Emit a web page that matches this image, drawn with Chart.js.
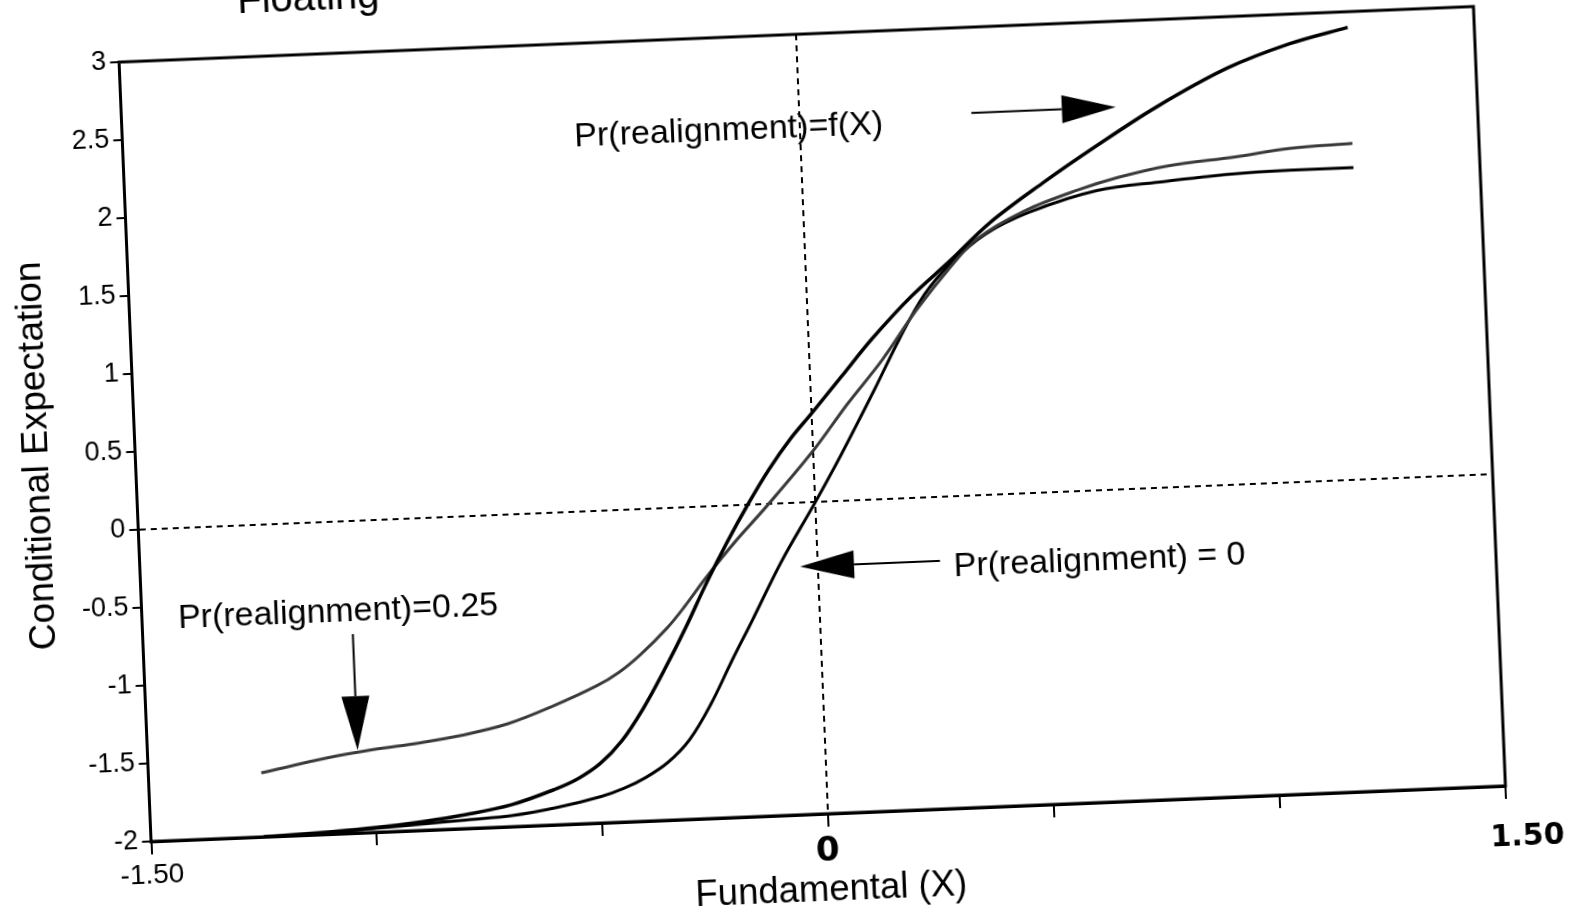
<!DOCTYPE html>
<html>
<head>
<meta charset="utf-8">
<script src="https://cdn.jsdelivr.net/npm/chart.js@4.4.0/dist/chart.umd.min.js"></script>
<style>
  html, body { margin: 0; padding: 0; background: #fff; overflow: hidden; width: 1578px; height: 915px; }
  /* the scan is tilted, so the whole chart is turned a little */
  #wrap { position: absolute; left: -60px; top: -60px; width: 1700px; height: 1040px;
          transform-origin: 872px 484px; transform: rotate(-2.35deg); }
</style>
</head>
<body>
<div id="wrap"><canvas id="myChart" width="1700" height="1040"></canvas></div>
<script>
// Pr(realignment) = f(X)
const fxX = [-1.25, -1.1, -1.0, -0.9, -0.8, -0.7, -0.6, -0.55, -0.5, -0.45, -0.4, -0.35, -0.3, -0.25, -0.2, -0.15, -0.1, -0.05, 0.0, 0.07, 0.14, 0.23, 0.32, 0.41, 0.53, 0.65, 0.79, 0.95, 1.09, 1.22];
const fxY = [-2.0, -1.985, -1.97, -1.945, -1.91, -1.86, -1.77, -1.71, -1.62, -1.48, -1.28, -1.04, -0.78, -0.50, -0.24, 0.0, 0.22, 0.41, 0.57, 0.80, 1.03, 1.29, 1.51, 1.74, 1.98, 2.20, 2.44, 2.67, 2.81, 2.90];

// Pr(realignment) = 0.25
const p25X = [-1.25, -1.1, -1.0, -0.9, -0.8, -0.7, -0.6, -0.5, -0.45, -0.4, -0.34, -0.3, -0.25, -0.18, -0.11, 0.0, 0.08, 0.16, 0.24, 0.32, 0.38, 0.49, 0.61, 0.7, 0.81, 0.96, 1.08, 1.22];
const p25Y = [-1.59, -1.51, -1.47, -1.44, -1.40, -1.34, -1.24, -1.12, -1.04, -0.93, -0.77, -0.64, -0.46, -0.23, -0.02, 0.33, 0.62, 0.89, 1.20, 1.47, 1.64, 1.81, 1.93, 2.00, 2.06, 2.10, 2.14, 2.155];

// Pr(realignment) = 0
const p0X = [-1.25, -1.1, -1.0, -0.9, -0.8, -0.7, -0.6, -0.5, -0.45, -0.4, -0.35, -0.3, -0.25, -0.2, -0.15, -0.08, 0.0, 0.06, 0.14, 0.2, 0.26, 0.32, 0.4, 0.5, 0.65, 0.8, 0.95, 1.08, 1.22];
const p0Y = [-2.0, -1.99, -1.975, -1.96, -1.945, -1.93, -1.89, -1.83, -1.785, -1.72, -1.63, -1.49, -1.27, -1.00, -0.74, -0.37, 0.0, 0.29, 0.70, 1.02, 1.30, 1.49, 1.67, 1.80, 1.92, 1.96, 1.99, 2.0, 2.0];

const xTicks = [-1.5, -1, -0.5, 0, 0.5, 1, 1.5];
const xTickLabels = ['-1.50', '', '', '0', '', '', '1.50'];
const xHandwritten = [false, false, false, true, false, false, true];
const yTicks = [-2, -1.5, -1, -0.5, 0, 0.5, 1, 1.5, 2, 2.5, 3];
const yTickLabels = ['-2', '-1.5', '-1', '-0.5', '0', '0.5', '1', '1.5', '2', '2.5', '3'];

// notes and arrows inside the plot (data units)
const noteTexts = ['Pr(realignment)=f(X)', 'Pr(realignment) = 0', 'Pr(realignment)=0.25'];
const noteX = [-0.50, 0.30, -1.42];
const noteY = [2.40, -0.45, -0.58];
const arrowFrom = [[0.38, 2.45], [0.27, -0.41], [-1.035, -0.725]];
const arrowTo = [[0.70, 2.45], [-0.04, -0.41], [-1.035, -1.47]];

const FONT = '"Liberation Sans", Arial, sans-serif';
const pts = (xs, ys) => xs.map((x, i) => ({ x: x, y: ys[i] }));

const extras = {
    id: 'extras',
    afterDraw(chart) {
        const { ctx, chartArea: a, scales: { x, y } } = chart;
        ctx.save();
        // frame round the plot
        ctx.strokeStyle = '#000';
        ctx.lineWidth = 3;
        ctx.strokeRect(a.left, a.top, a.right - a.left, a.bottom - a.top);

        ctx.fillStyle = '#000';
        ctx.font = '34px ' + FONT;
        ctx.textAlign = 'left';
        ctx.textBaseline = 'middle';
        noteTexts.forEach((t, i) => {
            ctx.fillText(t, x.getPixelForValue(noteX[i]), y.getPixelForValue(noteY[i]));
        });

        arrowFrom.forEach((f, i) => {
            const x1 = x.getPixelForValue(f[0]), y1 = y.getPixelForValue(f[1]);
            const x2 = x.getPixelForValue(arrowTo[i][0]), y2 = y.getPixelForValue(arrowTo[i][1]);
            const ang = Math.atan2(y2 - y1, x2 - x1);
            const len = 54, half = 14;
            const bx = x2 - len * Math.cos(ang), by = y2 - len * Math.sin(ang);
            ctx.lineWidth = 2;
            ctx.beginPath();
            ctx.moveTo(x1, y1);
            ctx.lineTo(bx, by);
            ctx.stroke();
            ctx.beginPath();
            ctx.moveTo(x2, y2);
            ctx.lineTo(bx + half * Math.sin(ang), by - half * Math.cos(ang));
            ctx.lineTo(bx - half * Math.sin(ang), by + half * Math.cos(ang));
            ctx.closePath();
            ctx.fill();
        });

        // the hand-written tick labels
        ctx.textAlign = 'center';
        xTicks.forEach((v, i) => {
            if (!xHandwritten[i]) return;
            const dx = v === 0 ? -2 : 20;
            const dy = v === 0 ? 38 : 52;
            ctx.font = 'bold ' + (v === 0 ? 34 : 30) + 'px "DejaVu Sans", sans-serif';
            ctx.fillText(xTickLabels[i], x.getPixelForValue(v) + dx, a.bottom + dy);
        });

        // title, mostly cut off by the top of the page
        ctx.font = '40px ' + FONT;
        ctx.textAlign = 'left';
        ctx.textBaseline = 'alphabetic';
        ctx.fillText('Floating', 315, 50);
        ctx.restore();
    }
};

const ctx = document.getElementById('myChart').getContext('2d');

const myChart = new Chart(ctx, {
    type: 'line',
    data: {
        datasets: [
            { label: 'Pr(realignment)=f(X)', data: pts(fxX, fxY), borderColor: '#000', borderWidth: 3.5 },
            { label: 'Pr(realignment)=0.25', data: pts(p25X, p25Y), borderColor: '#3a3a3a', borderWidth: 3 },
            { label: 'Pr(realignment)=0', data: pts(p0X, p0Y), borderColor: '#000', borderWidth: 3 }
        ]
    },
    options: {
        responsive: false,
        animation: false,
        layout: { padding: { left: 60, top: 94, right: 150, bottom: 65 } },
        elements: {
            point: { radius: 0 },
            line: { tension: 0.35, fill: false }
        },
        plugins: { legend: { display: false }, tooltip: { enabled: false } },
        scales: {
            x: {
                type: 'linear',
                min: -1.5,
                max: 1.5,
                afterBuildTicks: s => { s.ticks = xTicks.map(v => ({ value: v })); },
                afterFit: s => { s.height = 101; },
                ticks: {
                    autoSkip: false,
                    maxRotation: 0,
                    padding: 4,
                    color: '#000',
                    font: { family: FONT, size: 28 },
                    callback: v => {
                        const i = xTicks.indexOf(v);
                        return xHandwritten[i] ? '' : xTickLabels[i];
                    }
                },
                grid: {
                    color: c => (c.tick && c.tick.value === 0 ? '#000' : 'rgba(0,0,0,0)'),
                    lineWidth: 2,
                    tickColor: '#000',
                    tickWidth: 2,
                    tickLength: 13
                },
                border: { color: '#000', width: 3, dash: [6, 5] },
                title: {
                    display: true,
                    text: 'Fundamental (X)',
                    color: '#000',
                    font: { family: FONT, size: 36.5 },
                    padding: { top: 0, bottom: 2 }
                }
            },
            y: {
                min: -2,
                max: 3,
                afterBuildTicks: s => { s.ticks = yTicks.map(v => ({ value: v })); },
                afterFit: s => { s.width = 134.5; },
                ticks: {
                    padding: 4,
                    color: '#000',
                    font: { family: FONT, size: 27 },
                    callback: v => yTickLabels[yTicks.indexOf(v)]
                },
                grid: {
                    color: c => (c.tick && c.tick.value === 0 ? '#000' : 'rgba(0,0,0,0)'),
                    lineWidth: 2,
                    tickColor: '#000',
                    tickWidth: 2,
                    tickLength: 9
                },
                border: { color: '#000', width: 3, dash: [6, 5] },
                title: {
                    display: true,
                    text: 'Conditional Expectation',
                    color: '#000',
                    font: { family: FONT, size: 37 },
                    padding: { top: 15, bottom: 0 }
                }
            }
        }
    },
    plugins: [extras]
});
</script>
</body>
</html>
